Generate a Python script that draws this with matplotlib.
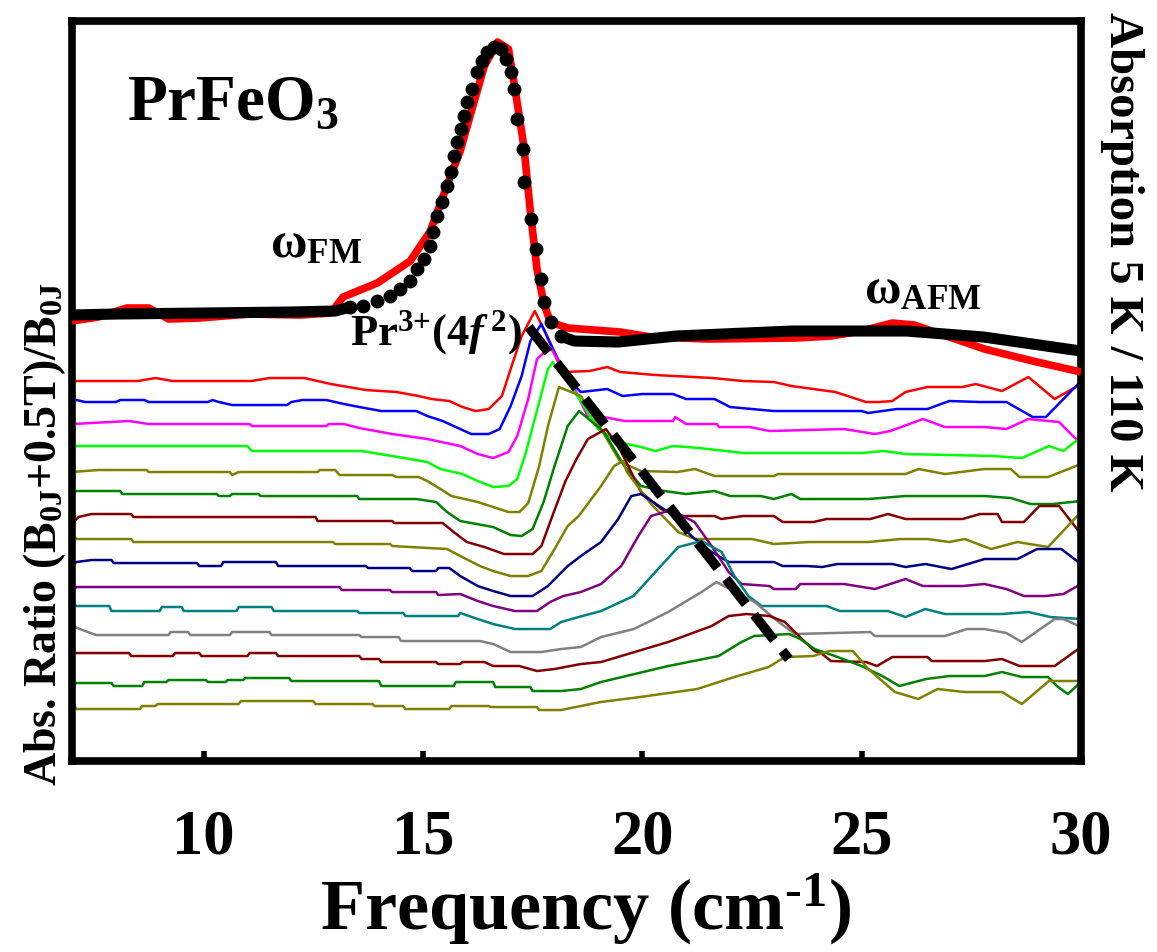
import matplotlib
matplotlib.use('Agg')
import matplotlib.pyplot as plt
import numpy as np

plt.rcParams['font.family'] = ['Liberation Serif', 'DejaVu Serif']
plt.rcParams['font.weight'] = 'bold'
plt.rcParams['mathtext.fontset'] = 'custom'
plt.rcParams['mathtext.rm'] = 'Liberation Serif:bold'
plt.rcParams['mathtext.it'] = 'Liberation Serif:italic:bold'
plt.rcParams['mathtext.bf'] = 'Liberation Serif:bold'

# absorption ratio A(B0J+0.5T)/A(B0J), offset traces top -> bottom: (frequency, value)
r01 = [(7.0, 3.80), (8.5, 3.80), (8.9, 3.83), (9.3, 3.80), (11.1, 3.80), (11.5, 3.83), (12.3, 3.83),
       (12.9, 3.77), (13.3, 3.74), (13.7, 3.71), (14.4, 3.69), (14.9, 3.65), (15.2, 3.62), (15.6, 3.60),
       (15.9, 3.54), (16.2, 3.50), (16.5, 3.52), (16.8, 3.65), (17.0, 3.92), (17.25, 4.25), (17.55, 4.50),
       (17.75, 4.32), (18.05, 4.02), (18.2, 3.89), (18.8, 3.90), (19.2, 3.94), (19.5, 3.89), (20.3, 3.86),
       (21.6, 3.83), (22.3, 3.80), (23.0, 3.79), (23.4, 3.75), (24.4, 3.69), (25.1, 3.59), (25.4, 3.59),
       (25.7, 3.60), (26.0, 3.69), (26.5, 3.74), (27.3, 3.74), (27.6, 3.77), (28.2, 3.70), (28.8, 3.84),
       (29.4, 3.62), (30.0, 3.77)]
r02 = [(7.0, 3.62), (7.3, 3.59), (8.0, 3.59), (8.1, 3.61), (8.65, 3.61), (8.75, 3.59), (10.1, 3.59),
       (10.2, 3.61), (10.35, 3.59), (10.65, 3.56), (11.9, 3.56), (12.0, 3.59), (12.25, 3.61), (12.8, 3.61),
       (13.2, 3.57), (13.55, 3.54), (14.05, 3.50), (14.85, 3.50), (15.1, 3.45), (15.45, 3.40), (15.85, 3.32),
       (16.1, 3.27), (16.5, 3.27), (16.75, 3.32), (17.0, 3.55), (17.25, 3.85), (17.45, 4.20), (17.7, 4.37),
       (18.0, 4.09), (18.3, 3.82), (18.6, 3.69), (19.2, 3.72), (19.55, 3.65), (20.0, 3.67), (20.7, 3.67),
       (21.0, 3.62), (21.65, 3.62), (22.0, 3.54), (23.0, 3.50), (25.0, 3.50), (25.15, 3.48), (25.8, 3.52),
       (26.5, 3.52), (27.0, 3.60), (27.7, 3.59), (28.3, 3.59), (28.9, 3.44), (29.2, 3.44), (30.0, 3.80)]
r03 = [(7.0, 3.37), (8.3, 3.40), (8.75, 3.37), (11.05, 3.37), (11.1, 3.35), (12.8, 3.35), (12.85, 3.37),
       (13.2, 3.37), (13.55, 3.33), (14.3, 3.27), (15.1, 3.22), (15.85, 3.15), (16.25, 3.07), (16.6, 3.03),
       (16.95, 3.09), (17.15, 3.25), (17.4, 3.62), (17.6, 4.02), (17.9, 4.14), (18.35, 3.82), (18.75, 3.45),
       (19.0, 3.45), (19.6, 3.40), (20.7, 3.40), (20.75, 3.44), (21.0, 3.37), (21.7, 3.37), (21.75, 3.34),
       (22.45, 3.34), (22.9, 3.30), (24.6, 3.32), (25.3, 3.27), (25.65, 3.30), (26.4, 3.42), (26.9, 3.34),
       (27.8, 3.34), (28.3, 3.32), (28.8, 3.42), (29.5, 3.39), (30.0, 3.17)]
r04 = [(7.0, 3.15), (11.0, 3.15), (11.1, 3.10), (13.6, 3.10), (14.3, 3.05), (15.1, 2.99), (15.4, 2.92),
       (15.9, 2.87), (16.25, 2.80), (16.6, 2.74), (16.95, 2.75), (17.15, 2.82), (17.35, 3.09), (17.65, 3.59),
       (17.85, 3.92), (17.96, 3.99), (18.3, 3.79), (18.67, 3.55), (18.99, 3.32), (19.45, 3.19), (19.97, 3.14),
       (20.3, 3.10), (20.7, 3.15), (21.3, 3.13), (22.3, 3.08), (25.0, 3.08), (25.5, 3.10), (26.0, 3.07),
       (27.0, 3.06), (28.0, 3.05), (28.65, 3.03), (29.27, 3.15), (29.6, 3.10), (30.0, 3.24)]
r05 = [(7.0, 2.89), (7.6, 2.91), (8.7, 2.91), (8.75, 2.89), (10.6, 2.89), (10.65, 2.86), (10.8, 2.89),
       (12.6, 2.89), (12.65, 2.91), (13.0, 2.91), (13.1, 2.86), (14.3, 2.86), (14.4, 2.84), (14.9, 2.84),
       (15.1, 2.80), (15.4, 2.72), (15.65, 2.65), (16.25, 2.59), (16.6, 2.54), (16.95, 2.49), (17.2, 2.49),
       (17.4, 2.58), (17.65, 2.95), (17.85, 3.35), (18.1, 3.74), (18.6, 3.65), (19.06, 3.32), (19.5, 2.99),
       (19.97, 2.90), (20.8, 2.89), (21.2, 2.92), (21.65, 2.85), (23.0, 2.85), (23.1, 2.87), (26.0, 2.87),
       (26.3, 2.92), (26.9, 2.87), (27.8, 2.92), (28.4, 2.92), (28.6, 2.84), (29.25, 2.84), (30.0, 2.97)]
r06 = [(7.0, 2.70), (8.1, 2.70), (8.15, 2.67), (10.3, 2.67), (10.35, 2.65), (10.6, 2.65), (10.65, 2.67),
       (11.25, 2.67), (11.3, 2.65), (13.5, 2.65), (13.55, 2.62), (14.85, 2.62), (15.3, 2.59), (15.55, 2.49),
       (15.85, 2.40), (16.6, 2.34), (17.0, 2.26), (17.25, 2.25), (17.5, 2.32), (17.75, 2.59), (18.0, 2.95),
       (18.3, 3.35), (18.56, 3.50), (19.13, 3.29), (19.59, 2.95), (19.97, 2.75), (20.5, 2.70), (21.0, 2.67),
       (21.65, 2.70), (22.0, 2.65), (22.7, 2.65), (23.0, 2.62), (23.4, 2.67), (23.6, 2.62), (25.15, 2.62),
       (26.0, 2.65), (27.8, 2.65), (28.4, 2.63), (28.85, 2.57), (29.35, 2.57), (30.0, 2.60)]
r07 = [(7.0, 2.37), (7.15, 2.44), (7.45, 2.47), (8.35, 2.47), (8.4, 2.44), (12.55, 2.44), (12.6, 2.40),
       (14.3, 2.40), (14.35, 2.38), (15.45, 2.38), (15.7, 2.29), (16.0, 2.19), (16.4, 2.14), (16.85, 2.07),
       (17.5, 2.07), (17.7, 2.15), (17.95, 2.45), (18.25, 2.80), (18.5, 3.02), (18.76, 3.22), (19.17, 3.32),
       (19.45, 3.15), (19.68, 2.95), (19.97, 2.69), (20.43, 2.52), (20.8, 2.45), (21.65, 2.45), (21.8, 2.42),
       (22.3, 2.45), (23.0, 2.45), (23.2, 2.39), (23.9, 2.39), (24.2, 2.42), (25.2, 2.42), (25.6, 2.47),
       (26.0, 2.42), (27.3, 2.42), (27.7, 2.47), (28.1, 2.47), (28.2, 2.39), (28.7, 2.39), (29.05, 2.55),
       (29.5, 2.55), (30.0, 2.27)]
r08 = [(7.0, 2.27), (7.1, 2.22), (8.35, 2.22), (8.4, 2.19), (12.95, 2.19), (13.0, 2.17), (14.25, 2.17),
       (14.3, 2.15), (15.55, 2.12), (15.85, 2.05), (16.3, 1.95), (16.6, 1.90), (17.0, 1.85), (17.4, 1.85),
       (17.7, 1.90), (18.0, 2.12), (18.3, 2.35), (18.55, 2.45), (19.06, 2.75), (19.36, 2.95), (19.56, 3.00),
       (19.65, 2.89), (20.2, 2.57), (20.82, 2.29), (21.2, 2.22), (22.5, 2.22), (23.0, 2.17), (23.8, 2.19),
       (25.15, 2.19), (25.9, 2.22), (26.5, 2.22), (27.0, 2.19), (27.35, 2.22), (27.95, 2.12), (28.55, 2.19),
       (29.25, 2.14), (30.0, 2.49)]
r09 = [(7.0, 1.95), (7.1, 1.99), (7.45, 2.01), (7.9, 2.01), (7.95, 1.98), (9.85, 1.98), (9.9, 1.95),
       (10.4, 1.95), (10.45, 1.99), (11.65, 1.99), (11.7, 1.95), (13.7, 1.95), (13.75, 1.93), (14.7, 1.93),
       (14.75, 1.90), (15.3, 1.90), (15.35, 1.93), (15.6, 1.93), (15.85, 1.85), (16.25, 1.75), (16.6, 1.70),
       (17.0, 1.65), (17.5, 1.65), (17.85, 1.75), (18.3, 1.95), (18.6, 2.05), (19.06, 2.19), (19.45, 2.42),
       (19.75, 2.65), (19.97, 2.67), (20.59, 2.49), (21.12, 2.25), (21.58, 2.09), (21.97, 1.99), (23.0, 1.99),
       (23.2, 1.95), (23.75, 1.95), (24.1, 1.94), (24.45, 1.97), (25.7, 1.97), (26.0, 1.94), (26.45, 1.97),
       (27.05, 1.92), (27.8, 2.02), (28.55, 2.02), (29.0, 2.12), (29.55, 2.12), (30.0, 1.97)]
r10 = [(7.0, 1.69), (7.1, 1.74), (13.1, 1.74), (13.15, 1.71), (14.25, 1.71), (14.3, 1.69), (15.3, 1.69),
       (15.35, 1.66), (15.85, 1.67), (16.25, 1.60), (16.6, 1.55), (17.1, 1.50), (17.6, 1.50), (17.9, 1.59),
       (18.2, 1.65), (18.6, 1.69), (19.06, 1.77), (19.52, 1.95), (19.91, 2.25), (20.2, 2.45), (20.66, 2.51),
       (21.19, 2.39), (21.58, 2.15), (21.97, 1.89), (22.26, 1.77), (22.9, 1.75), (23.0, 1.72), (23.5, 1.72),
       (23.6, 1.77), (24.6, 1.77), (25.3, 1.72), (26.0, 1.82), (26.4, 1.75), (27.3, 1.75), (27.8, 1.77),
       (28.3, 1.72), (28.7, 1.65), (29.2, 1.65), (29.6, 1.67), (30.0, 1.77)]
r11 = [(7.0, 1.58), (7.1, 1.55), (7.85, 1.55), (7.9, 1.50), (9.0, 1.50), (9.05, 1.54), (9.5, 1.54),
       (9.55, 1.50), (10.75, 1.50), (10.8, 1.54), (11.55, 1.54), (11.6, 1.50), (13.5, 1.50), (13.55, 1.48),
       (14.55, 1.48), (14.6, 1.45), (15.8, 1.45), (15.85, 1.48), (16.25, 1.42), (16.6, 1.37), (17.1, 1.32),
       (17.9, 1.32), (18.15, 1.39), (18.55, 1.44), (19.06, 1.50), (19.8, 1.65), (20.36, 1.92), (20.82, 2.14),
       (21.35, 2.20), (21.81, 2.09), (22.1, 1.85), (22.42, 1.65), (22.72, 1.55), (24.2, 1.55), (24.5, 1.50),
       (25.6, 1.50), (26.0, 1.44), (26.45, 1.52), (26.9, 1.47), (28.2, 1.47), (28.8, 1.49), (29.3, 1.44),
       (30.0, 1.42)]
r12 = [(7.0, 1.35), (7.3, 1.30), (7.55, 1.26), (9.2, 1.26), (9.25, 1.29), (9.65, 1.29), (9.7, 1.26),
       (10.6, 1.26), (10.65, 1.29), (11.5, 1.29), (11.55, 1.26), (13.55, 1.26), (13.6, 1.24), (14.45, 1.24),
       (14.5, 1.20), (16.3, 1.20), (16.6, 1.17), (17.0, 1.09), (17.7, 1.09), (18.15, 1.12), (18.6, 1.14),
       (19.06, 1.24), (19.81, 1.32), (20.59, 1.49), (21.35, 1.69), (21.69, 1.79), (22.56, 1.59), (23.11, 1.39),
       (23.48, 1.27), (25.2, 1.29), (25.3, 1.25), (26.9, 1.25), (27.4, 1.32), (27.8, 1.32), (28.3, 1.28),
       (28.65, 1.19), (29.4, 1.42), (29.6, 1.42), (30.0, 1.34)]
r13 = [(7.0, 1.07), (7.1, 1.08), (8.3, 1.08), (8.35, 1.05), (9.3, 1.05), (9.35, 1.08), (9.9, 1.08),
       (9.95, 1.05), (11.0, 1.05), (11.05, 1.08), (11.65, 1.08), (11.7, 1.05), (13.55, 1.05), (13.6, 1.02),
       (14.0, 1.02), (14.05, 0.99), (15.3, 0.99), (15.35, 0.97), (15.85, 0.97), (15.9, 0.99), (16.4, 0.99),
       (16.6, 0.95), (17.2, 0.95), (17.6, 0.90), (18.0, 0.92), (18.6, 0.97), (19.06, 0.99), (20.59, 1.19),
       (21.58, 1.35), (21.97, 1.45), (22.38, 1.47), (22.9, 1.45), (23.25, 1.39), (23.64, 1.22), (23.93, 1.10),
       (24.1, 1.07), (24.3, 1.00), (25.1, 0.99), (25.35, 0.95), (25.7, 1.04), (26.5, 1.04), (26.6, 1.00),
       (27.8, 1.00), (28.2, 1.02), (28.6, 0.95), (29.4, 0.95), (30.0, 1.14)]
r14 = [(7.0, 0.75), (7.1, 0.78), (7.9, 0.78), (7.95, 0.75), (8.6, 0.75), (8.65, 0.79), (9.15, 0.79),
       (9.2, 0.81), (10.05, 0.81), (10.1, 0.79), (10.5, 0.79), (10.55, 0.81), (10.9, 0.81), (10.95, 0.83),
       (11.95, 0.83), (12.0, 0.80), (14.0, 0.80), (14.05, 0.75), (15.7, 0.75), (15.75, 0.79), (16.6, 0.79),
       (16.65, 0.74), (17.45, 0.74), (17.5, 0.70), (18.15, 0.70), (18.6, 0.72), (19.06, 0.79), (20.59, 0.95),
       (21.74, 1.05), (22.26, 1.19), (22.55, 1.25), (23.35, 1.27), (23.6, 1.22), (23.93, 1.12), (24.39, 1.05),
       (25.0, 0.95), (25.47, 0.85), (25.86, 0.75), (26.47, 0.82), (27.0, 0.85), (27.8, 0.85), (28.2, 0.89),
       (28.65, 0.84), (29.25, 0.84), (29.45, 0.75), (29.7, 0.67), (30.0, 0.79)]
r15 = [(7.0, 0.59), (7.1, 0.52), (8.55, 0.52), (8.6, 0.55), (8.9, 0.55), (8.95, 0.57), (10.8, 0.57),
       (10.85, 0.60), (12.5, 0.60), (12.55, 0.57), (13.85, 0.57), (13.9, 0.55), (14.55, 0.55), (14.6, 0.52),
       (15.6, 0.52), (15.65, 0.55), (16.5, 0.55), (16.55, 0.54), (17.6, 0.54), (17.65, 0.51), (18.15, 0.51),
       (19.05, 0.59), (19.95, 0.64), (21.25, 0.72), (22.1, 0.84), (22.88, 0.94), (23.25, 1.04), (23.9, 1.05),
       (24.25, 1.10), (24.8, 1.10), (25.15, 0.92), (25.76, 0.69), (26.29, 0.62), (26.73, 0.72), (27.34, 0.69),
       (28.2, 0.69), (28.65, 0.57), (29.27, 0.80), (30.0, 0.80)]

ratio_traces = [r01, r02, r03, r04, r05, r06, r07, r08, r09, r10, r11, r12, r13, r14, r15]
trace_colors = ['#FF0000', '#0000FF', '#FF00FF', '#00FF00', '#808000', '#008000', '#800000', '#808000',
                '#000080', '#800080', '#008080', '#808080', '#800000', '#008000', '#808000']

# absorption 5 K / 110 K (measured) and its fit, same offset scale
absorb = [(7.0, 4.40), (7.6, 4.44), (8.25, 4.53), (8.75, 4.53), (9.2, 4.42), (9.9, 4.43), (11.05, 4.47),
          (12.2, 4.46), (12.9, 4.48), (13.18, 4.64), (13.96, 4.78), (14.71, 5.00), (15.17, 5.30), (15.56, 5.77),
          (15.85, 6.10), (16.1, 6.49), (16.4, 6.95), (16.7, 7.19), (16.95, 7.12), (17.1, 6.72), (17.3, 6.15),
          (17.45, 5.49), (17.6, 4.92), (17.75, 4.59), (17.9, 4.39), (18.3, 4.33), (19.5, 4.29), (20.2, 4.24),
          (21.5, 4.22), (23.5, 4.23), (24.3, 4.25), (25.0, 4.30), (25.7, 4.38), (26.2, 4.36), (26.8, 4.27),
          (27.8, 4.12), (28.9, 4.00), (30.0, 3.89)]
fit = [(7.0, 4.46), (8.0, 4.47), (10.0, 4.48), (12.0, 4.49), (13.0, 4.50),
       (13.34, 4.54), (13.64, 4.55), (13.95, 4.60), (14.25, 4.65), (14.48, 4.72), (14.71, 4.80), (14.86, 4.92),
       (15.02, 5.02), (15.17, 5.15), (15.24, 5.29), (15.32, 5.45), (15.44, 5.59), (15.55, 5.75), (15.63, 5.89),
       (15.70, 6.05), (15.78, 6.19), (15.86, 6.32), (15.93, 6.45), (16.01, 6.59), (16.12, 6.72), (16.24, 6.89),
       (16.35, 7.00), (16.46, 7.09), (16.62, 7.14), (16.77, 7.12), (16.89, 7.02), (17.0, 6.89), (17.08, 6.72),
       (17.15, 6.42), (17.27, 6.12), (17.30, 5.79), (17.46, 5.42), (17.57, 5.12), (17.69, 4.82), (17.76, 4.59),
       (17.92, 4.39), (18.14, 4.25),
       (18.45, 4.20), (19.45, 4.19), (20.78, 4.25), (23.41, 4.30), (26.02, 4.30), (27.78, 4.24), (30.0, 4.10)]

# guide through the shifted Pr3+ peaks
guide_x = [17.41, 23.34]
guide_y = [4.34, 1.02]

fig = plt.figure(figsize=(11.57, 9.53), dpi=100)
ax = fig.add_axes([0.0622, 0.2004, 0.8721, 0.7765])

for tr, c in zip(ratio_traces, trace_colors):
    a = np.array(tr)
    ax.plot(a[:, 0], a[:, 1], color=c, lw=1.8, zorder=2)

a = np.array(absorb)
ax.plot(a[:, 0], a[:, 1], color='#FF0000', lw=5.5, solid_capstyle='butt', zorder=3)

# fit: flat wings as a thick line, the peak as separate dots
f = np.array(fit)
left = f[f[:, 0] <= 13.34]
right = f[f[:, 0] >= 18.14]
peak = f[(f[:, 0] >= 13.34) & (f[:, 0] <= 18.14)]
ax.plot(left[:, 0], left[:, 1], color='black', lw=8, solid_capstyle='round', zorder=4)
ax.plot(right[:, 0], right[:, 1], color='black', lw=8, solid_capstyle='round', zorder=4)
ax.plot(peak[:, 0], peak[:, 1], 'o', color='black', ms=9, zorder=4)

ax.plot(guide_x, guide_y, color='black', lw=7, dashes=(3.3, 1.4), dash_capstyle='butt', zorder=5)

ax.set_xlim(7, 30)
ax.set_ylim(0, 7.40)
ax.set_xticks([10, 15, 20, 25, 30])
ax.set_yticks([])
ax.tick_params(axis='x', direction='in', length=7, width=4, pad=34, labelsize=45)
for s in ax.spines.values():
    s.set_linewidth(5.5)

ax.set_xlabel(r'$\mathrm{Frequency\ (cm^{\text{-1}})}$', fontsize=52)
ax.xaxis.set_label_coords(0.509, -0.148)
ax.xaxis.label.set_va('top')

ax.text(8.26, 6.42, r'$\mathrm{PrFeO_3}$', fontsize=47, ha='left', va='baseline')
ax.text(11.51, 5.05, r'$\mathrm{\omega_{FM}}$', fontsize=36, ha='left', va='baseline')
ax.text(25.05, 4.59, r'$\mathrm{\omega_{AFM}}$', fontsize=36, ha='left', va='baseline')
ax.text(13.34, 4.17, r'$\mathrm{Pr}^{\text{3+}}\mathrm{(4}\mathit{f}^{\,\text{2}}\mathrm{)}$', fontsize=32,
        ha='left', va='baseline', zorder=6)

fig.text(0.0389, 0.4397, r'$\text{Abs. Ratio (B}_{\text{0J}}\text{+0.5T)/B}_{\text{0J}}$',
         fontsize=33, rotation=90, ha='center', va='center')
fig.text(0.9698, 0.7356, 'Absorption 5 K / 110 K', fontsize=35, rotation=-90,
         ha='center', va='center')

fig.savefig('out.png', dpi=100)
